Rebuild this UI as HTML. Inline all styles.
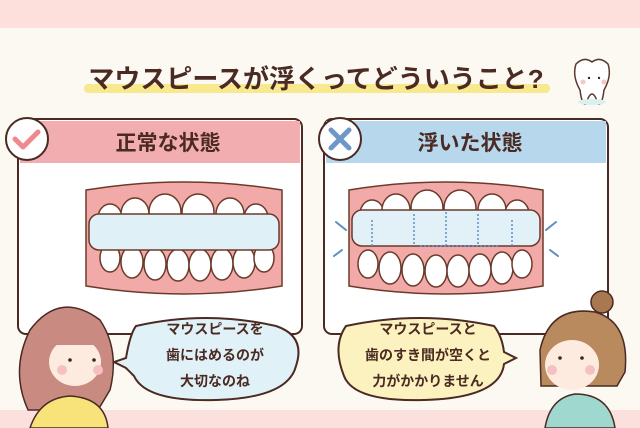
<!DOCTYPE html>
<html><head><meta charset="utf-8"><style>
html,body{margin:0;padding:0;width:640px;height:428px;overflow:hidden;background:#fbf9f1;}
svg{display:block}
text{font-family:"Liberation Sans","Noto Sans CJK JP",sans-serif;font-weight:bold;fill:#4a2a22}
</style></head><body>
<svg width="640" height="428" viewBox="0 0 640 428" xmlns="http://www.w3.org/2000/svg">
<rect x="0" y="0" width="640" height="428" fill="#fbf9f1"/>
<rect x="0" y="0" width="640" height="28" fill="#fde0dc"/>
<rect x="0" y="410" width="640" height="18" fill="#fbe0dd"/>
<!-- title -->
<rect x="84" y="84" width="466" height="9" rx="4" fill="#f9e98e"/>
<text x="316" y="88" font-size="26" text-anchor="middle" fill="#3d2620">マウスピースが浮くってどういうこと?</text>
<!-- tooth mascot -->
<path d="M576 64 q8 -8 16 -2 q8 -6 16 2 q4 12 -4 26 q-2 16 -6 14 q-3 -10 -6 -10 q-3 0 -6 10 q-4 2 -6 -14 q-8 -14 -4 -26z" fill="#fff" stroke="#5a3a30" stroke-width="1.5"/>
<ellipse cx="592" cy="102" rx="14" ry="3" fill="#d8f0ee"/>
<circle cx="589" cy="78" r="1.2" fill="#3d2620"/><circle cx="599" cy="78" r="1.2" fill="#3d2620"/>
<circle cx="583" cy="82" r="2.5" fill="#f8c6c6"/><circle cx="604" cy="82" r="2.5" fill="#f8c6c6"/>
<!-- left card -->
<rect x="18" y="119" width="284" height="215" rx="8" fill="#fff" stroke="#4a2a22" stroke-width="2"/>
<path d="M20 121 h280 v42 h-280z" fill="#f2adb0"/>
<text x="168" y="150" font-size="21" text-anchor="middle">正常な状態</text>
<circle cx="27" cy="139" r="21" fill="#fff" stroke="#4a2a22" stroke-width="2"/>
<path d="M15 139 l8 8 l15 -15" fill="none" stroke="#ee8a8e" stroke-width="5" stroke-linecap="round" stroke-linejoin="round"/>
<!-- right card -->
<rect x="324" y="119" width="284" height="215" rx="8" fill="#fff" stroke="#4a2a22" stroke-width="2"/>
<path d="M326 121 h280 v42 h-280z" fill="#b7d8ec"/>
<text x="470" y="150" font-size="21" text-anchor="middle">浮いた状態</text>
<circle cx="340" cy="139" r="21" fill="#fff" stroke="#4a2a22" stroke-width="2"/>
<path d="M331 130 l18 18 M349 130 l-18 18" stroke="#6f98c8" stroke-width="5" stroke-linecap="round"/>
<!-- left teeth -->
<g stroke="#6b3a2a" stroke-width="1.5">
<path d="M86 190 q98 -16 196 0 v96 q-98 16 -196 0z" fill="#f2aaa8"/>
<g fill="#fff">
<ellipse cx="110" cy="218" rx="12" ry="14"/><ellipse cx="135" cy="214" rx="14" ry="16"/><ellipse cx="165" cy="212" rx="16" ry="18"/><ellipse cx="198" cy="212" rx="16" ry="18"/><ellipse cx="230" cy="214" rx="14" ry="16"/><ellipse cx="256" cy="218" rx="12" ry="14"/>
<ellipse cx="110" cy="258" rx="10" ry="14"/><ellipse cx="132" cy="262" rx="11" ry="16"/><ellipse cx="155" cy="264" rx="11" ry="16"/><ellipse cx="178" cy="265" rx="11" ry="16"/><ellipse cx="200" cy="265" rx="11" ry="16"/><ellipse cx="222" cy="264" rx="11" ry="16"/><ellipse cx="244" cy="262" rx="11" ry="16"/><ellipse cx="264" cy="258" rx="10" ry="14"/>
</g>
<rect x="89" y="214" width="190" height="36" rx="10" fill="#dff0f7"/>
</g>
<!-- right teeth -->
<g stroke="#6b3a2a" stroke-width="1.5">
<path d="M349 190 q97 -16 194 0 v96 q-97 16 -194 0z" fill="#f2aaa8"/>
<g fill="#fff">
<ellipse cx="372" cy="214" rx="12" ry="14"/><ellipse cx="396" cy="210" rx="14" ry="16"/><ellipse cx="427" cy="208" rx="16" ry="18"/><ellipse cx="460" cy="208" rx="16" ry="18"/><ellipse cx="492" cy="210" rx="14" ry="16"/><ellipse cx="517" cy="214" rx="12" ry="14"/>
<ellipse cx="368" cy="264" rx="10" ry="14"/><ellipse cx="390" cy="268" rx="11" ry="16"/><ellipse cx="413" cy="270" rx="11" ry="16"/><ellipse cx="436" cy="271" rx="11" ry="16"/><ellipse cx="458" cy="271" rx="11" ry="16"/><ellipse cx="480" cy="270" rx="11" ry="16"/><ellipse cx="502" cy="268" rx="11" ry="16"/><ellipse cx="522" cy="264" rx="10" ry="14"/>
</g>
<rect x="352" y="210" width="188" height="36" rx="10" fill="#e2f1f8"/>
</g>
<g stroke="#5b8fc4" stroke-width="1.5" fill="none" stroke-dasharray="2 2">
<path d="M372 220 v26 M414 214 v32 M446 212 v34 M478 214 v32 M512 220 v26 M420 246 h80"/>
</g>
<g stroke="#5b8fc4" stroke-width="2" fill="none" stroke-linecap="round">
<path d="M336 222 l10 8 M342 250 l-8 6 M556 222 l-10 8 M550 250 l8 6"/>
</g>
<!-- bubbles -->
<path d="M136 326 q70 -16 140 0 q30 10 20 40 q-8 32 -80 34 q-70 2 -82 -24 l-8 -8 l-12 -6 l12 -4 q4 -24 10 -32z" fill="#e1f1f8" stroke="#4a2a22" stroke-width="2"/>
<text font-size="14" text-anchor="middle"><tspan x="215" y="334">マウスピースを</tspan><tspan x="215" y="360">歯にはめるのが</tspan><tspan x="215" y="386">大切なのね</tspan></text>
<path d="M346 326 q74 -16 148 0 q8 10 10 26 l12 6 l-12 6 q-4 34 -80 36 q-70 2 -80 -24 q-12 -30 2 -50z" fill="#fbf2bf" stroke="#4a2a22" stroke-width="2"/>
<text font-size="14" text-anchor="middle"><tspan x="428" y="334">マウスピースと</tspan><tspan x="428" y="360">歯のすき間が空くと</tspan><tspan x="428" y="386">力がかかりません</tspan></text>
<!-- girl left -->
<path d="M30 330 q30 -40 70 -10 q20 30 10 70 l-12 20 h-70 q-18 -40 2 -80z" fill="#c98a82" stroke="#4a2a22" stroke-width="1.5"/>
<ellipse cx="75" cy="362" rx="26" ry="24" fill="#fdebe0"/>
<path d="M50 345 q25 -20 50 0" fill="#c98a82"/>
<circle cx="70" cy="360" r="1.8" fill="#3d2620"/><circle cx="94" cy="360" r="1.8" fill="#3d2620"/>
<circle cx="62" cy="370" r="5" fill="#f7c0c0"/><circle cx="98" cy="370" r="5" fill="#f7c0c0"/>
<path d="M30 428 q10 -30 40 -32 q35 2 38 32z" fill="#f8e27a" stroke="#4a2a22" stroke-width="1.5"/>
<!-- nurse right -->
<circle cx="602" cy="302" r="11" fill="#a87850" stroke="#4a2a22" stroke-width="1.5"/>
<path d="M540 350 q10 -45 55 -38 q35 10 30 60 l-8 14 h-76z" fill="#b88a5e" stroke="#4a2a22" stroke-width="1.5"/>
<ellipse cx="572" cy="365" rx="27" ry="25" fill="#fdebe0"/>
<circle cx="560" cy="358" r="1.8" fill="#3d2620"/><circle cx="582" cy="358" r="1.8" fill="#3d2620"/>
<circle cx="552" cy="370" r="5" fill="#f7c0c0"/><circle cx="590" cy="370" r="5" fill="#f7c0c0"/>
<path d="M545 428 q5 -30 30 -34 q35 0 40 34z" fill="#9fd8cf" stroke="#4a2a22" stroke-width="1.5"/>
</svg>
</body></html>
